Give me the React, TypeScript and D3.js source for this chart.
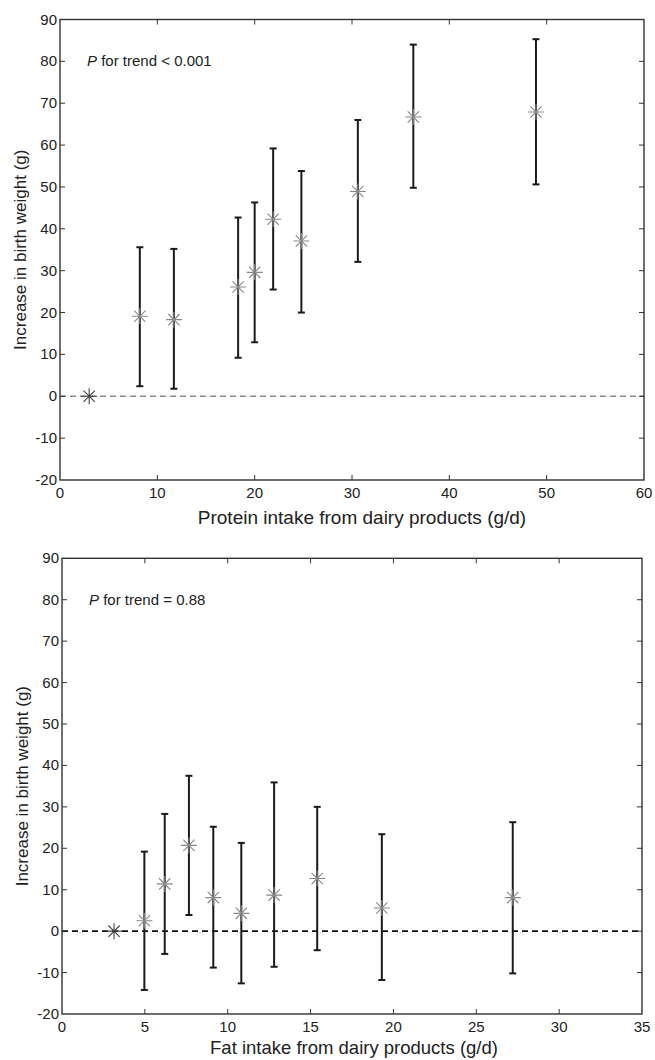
import React from "react";
import * as d3 from "d3";

// Panel A: protein intake
const proteinX = [3.0, 8.2, 11.7, 18.3, 20.0, 21.9, 24.8, 30.6, 36.3, 48.9];
const proteinEst = [0, 19.1, 18.3, 26.1, 29.6, 42.3, 37.1, 48.9, 66.7, 67.9];
const proteinLo = [null, 2.4, 1.8, 9.2, 12.9, 25.5, 20.0, 32.1, 49.8, 50.6];
const proteinHi = [null, 35.6, 35.2, 42.7, 46.3, 59.2, 53.8, 66.0, 84.0, 85.3];
const proteinXTicks = [0, 10, 20, 30, 40, 50, 60];

// Panel B: fat intake
const fatX = [3.14, 4.97, 6.2, 7.66, 9.13, 10.82, 12.8, 15.4, 19.3, 27.2];
const fatEst = [0, 2.5, 11.4, 20.7, 8.1, 4.3, 8.7, 12.7, 5.6, 8.1];
const fatLo = [null, -14.2, -5.5, 3.9, -8.8, -12.6, -8.6, -4.6, -11.8, -10.2];
const fatHi = [null, 19.2, 28.3, 37.5, 25.2, 21.3, 35.9, 30.0, 23.4, 26.3];
const fatXTicks = [0, 5, 10, 15, 20, 25, 30, 35];

const yTicks = [-20, -10, 0, 10, 20, 30, 40, 50, 60, 70, 80, 90];
const yLabel = "Increase in birth weight (g)";
const FONT = "'Liberation Sans', Arial, Helvetica, sans-serif";

type PanelProps = {
  top: number;
  bottom: number;
  left: number;
  right: number;
  xMax: number;
  xTicks: number[];
  xs: number[];
  est: number[];
  lo: (number | null)[];
  hi: (number | null)[];
  xLabel: string;
  xLabelOffset: number;
  xLabelShift: number;
  xLabelSize: number;
  pText: string;
  zeroColor: string;
};

function Asterisk({ cx, cy, r, color }: { cx: number; cy: number; r: number; color: string }) {
  const d = r * Math.SQRT1_2;
  const p = d3.path();
  p.moveTo(cx - r, cy); p.lineTo(cx + r, cy);
  p.moveTo(cx, cy - r); p.lineTo(cx, cy + r);
  p.moveTo(cx - d, cy - d); p.lineTo(cx + d, cy + d);
  p.moveTo(cx - d, cy + d); p.lineTo(cx + d, cy - d);
  return <path d={p.toString()} stroke={color} strokeWidth={1.1} fill="none" />;
}

function Panel(props: PanelProps) {
  const { top, bottom, left, right, xMax, xTicks, xs, est, lo, hi, xLabel, xLabelOffset, xLabelShift, xLabelSize, pText, zeroColor } = props;
  const x = d3.scaleLinear().domain([0, xMax]).range([left, right]);
  const y = d3.scaleLinear().domain([-20, 90]).range([bottom, top]);
  const axisColor = "#333";
  const tl = 5;
  const pParts = pText.split("P");
  return (
    <g>
      {/* zero line */}
      <line x1={left} x2={right} y1={y(0)} y2={y(0)} stroke={zeroColor} strokeWidth={1.6} strokeDasharray="6,4" />
      {/* ticks */}
      {xTicks.map((t, i) =>
        i === 0 || i === xTicks.length - 1 ? null : (
          <g key={"xt" + t}>
            <line x1={x(t)} x2={x(t)} y1={bottom} y2={bottom - tl} stroke={axisColor} strokeWidth={1} />
            <line x1={x(t)} x2={x(t)} y1={top} y2={top + tl} stroke={axisColor} strokeWidth={1} />
          </g>
        )
      )}
      {yTicks.map((t, i) =>
        i === 0 || i === yTicks.length - 1 ? null : (
          <g key={"yt" + t}>
            <line x1={left} x2={left + tl} y1={y(t)} y2={y(t)} stroke={axisColor} strokeWidth={1} />
            <line x1={right} x2={right - tl} y1={y(t)} y2={y(t)} stroke={axisColor} strokeWidth={1} />
          </g>
        )
      )}
      {/* frame */}
      <rect x={left} y={top} width={right - left} height={bottom - top} fill="none" stroke={axisColor} strokeWidth={1.4} />
      {/* tick labels */}
      {xTicks.map((t) => (
        <text key={"xl" + t} x={x(t)} y={bottom + 18} textAnchor="middle" fontSize={15} fill="#222" fontFamily={FONT}>
          {t}
        </text>
      ))}
      {yTicks.map((t) => (
        <text key={"yl" + t} x={left - 3} y={y(t) + 5} textAnchor="end" fontSize={15} fill="#222" fontFamily={FONT}>
          {t}
        </text>
      ))}
      {/* axis labels */}
      <text
        x={(left + right) / 2 + xLabelShift}
        y={bottom + xLabelOffset}
        textAnchor="middle"
        fontSize={xLabelSize}
        fill="#222"
        fontFamily={FONT}
      >
        {xLabel}
      </text>
      <text
        transform={`translate(${left - 34},${(top + bottom) / 2}) rotate(-90)`}
        textAnchor="middle"
        fontSize={17}
        fill="#222"
        fontFamily={FONT}
      >
        {yLabel}
      </text>
      {/* P text */}
      <text x={left + 27} y={y(80) + 5} fontSize={15} fill="#222" fontFamily={FONT}>
        <tspan fontStyle="italic">P</tspan>
        {pParts.slice(1).join("P")}
      </text>
      {/* error bars */}
      {xs.map((xv, i) => {
        const l = lo[i];
        const h = hi[i];
        if (l === null || h === null) return null;
        const cx = x(xv);
        return (
          <g key={"eb" + i} stroke="#1a1a1a" strokeWidth={2}>
            <line x1={cx} x2={cx} y1={y(l)} y2={y(h)} />
            <line x1={cx - 3.5} x2={cx + 3.5} y1={y(l)} y2={y(l)} />
            <line x1={cx - 3.5} x2={cx + 3.5} y1={y(h)} y2={y(h)} />
          </g>
        );
      })}
      {/* markers */}
      {xs.map((xv, i) => (
        <Asterisk key={"m" + i} cx={x(xv)} cy={y(est[i])} r={8} color={i === 0 ? "#444" : "#888"} />
      ))}
    </g>
  );
}

export default function App() {
  return (
    <svg width={655} height={1060} style={{ position: "absolute", left: 0, top: 0, background: "#fff" }}>
      <rect x={0} y={0} width={655} height={1060} fill="#fff" />
      <Panel
        top={19.5}
        bottom={480}
        left={60}
        right={644}
        xMax={60}
        xTicks={proteinXTicks}
        xs={proteinX}
        est={proteinEst}
        lo={proteinLo}
        hi={proteinHi}
        xLabel="Protein intake from dairy products (g/d)"
        xLabelOffset={44}
        xLabelShift={10}
        xLabelSize={19}
        pText="P for trend < 0.001"
        zeroColor="#8a8a8a"
      />
      <Panel
        top={558.3}
        bottom={1014}
        left={62}
        right={642}
        xMax={35}
        xTicks={fatXTicks}
        xs={fatX}
        est={fatEst}
        lo={fatLo}
        hi={fatHi}
        xLabel="Fat intake from dairy products (g/d)"
        xLabelOffset={40}
        xLabelShift={2}
        xLabelSize={18.5}
        pText="P for trend = 0.88"
        zeroColor="#111"
      />
    </svg>
  );
}
